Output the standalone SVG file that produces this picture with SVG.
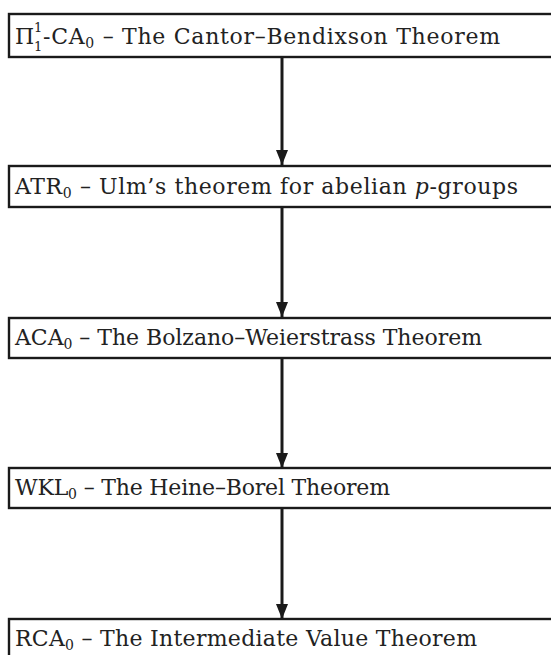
<svg xmlns="http://www.w3.org/2000/svg" width="551" height="655" viewBox="0 0 551 655">
  <defs>
    <marker id="arrow" markerWidth="15" markerHeight="12" refX="15" refY="6" orient="auto" markerUnits="userSpaceOnUse" viewBox="0 0 15 12">
      <path d="M0,0 L15,6 L0,12 Z" fill="#1a1a1a"/>
    </marker>
  </defs>
  <style>
    .box { fill: #ffffff; stroke: #1a1a1a; stroke-width: 2.4; }
    .lbl { font-family: "DejaVu Serif", "Liberation Serif", serif; font-size: 22px; fill: #222222; }
    .sub { font-size: 14px; }
    .idx { font-size: 13px; }
    .edge { stroke: #1a1a1a; stroke-width: 3; fill: none; }
  </style>
  <rect x="0" y="0" width="551" height="655" fill="#ffffff"/>

  <g id="edges">
    <line class="edge" x1="282" y1="57" x2="282" y2="165" marker-end="url(#arrow)"/>
    <line class="edge" x1="282" y1="208" x2="282" y2="317" marker-end="url(#arrow)"/>
    <line class="edge" x1="282" y1="358" x2="282" y2="468" marker-end="url(#arrow)"/>
    <line class="edge" x1="282" y1="508" x2="282" y2="619" marker-end="url(#arrow)"/>
  </g>

  <g id="pi11ca0">
    <rect class="box" x="9" y="14" width="560" height="43"/>
    <text class="lbl" x="15" y="44">Π</text>
    <text class="lbl idx" x="34" y="32">1</text>
    <text class="lbl idx" x="34" y="51">1</text>
    <text class="lbl" x="43" y="44" textLength="457" lengthAdjust="spacing">-CA<tspan class="sub" dy="4">0</tspan><tspan dy="-4"> – The Cantor–Bendixson Theorem</tspan></text>
  </g>

  <g id="atr0">
    <rect class="box" x="9" y="166" width="560" height="41"/>
    <text class="lbl" x="15" y="194" textLength="503" lengthAdjust="spacing">ATR<tspan class="sub" dy="4">0</tspan><tspan dy="-4"> – Ulm’s theorem for abelian </tspan><tspan font-style="italic">p</tspan>-groups</text>
  </g>

  <g id="aca0">
    <rect class="box" x="9" y="318" width="560" height="40"/>
    <text class="lbl" x="15" y="345" textLength="467" lengthAdjust="spacing">ACA<tspan class="sub" dy="4">0</tspan><tspan dy="-4"> – The Bolzano–Weierstrass Theorem</tspan></text>
  </g>

  <g id="wkl0">
    <rect class="box" x="9" y="468" width="560" height="40"/>
    <text class="lbl" x="15" y="495" textLength="375" lengthAdjust="spacing">WKL<tspan class="sub" dy="4">0</tspan><tspan dy="-4"> – The Heine–Borel Theorem</tspan></text>
  </g>

  <g id="rca0">
    <rect class="box" x="9" y="619" width="560" height="50"/>
    <text class="lbl" x="15" y="646" textLength="462" lengthAdjust="spacing">RCA<tspan class="sub" dy="4">0</tspan><tspan dy="-4"> – The Intermediate Value Theorem</tspan></text>
  </g>
</svg>
